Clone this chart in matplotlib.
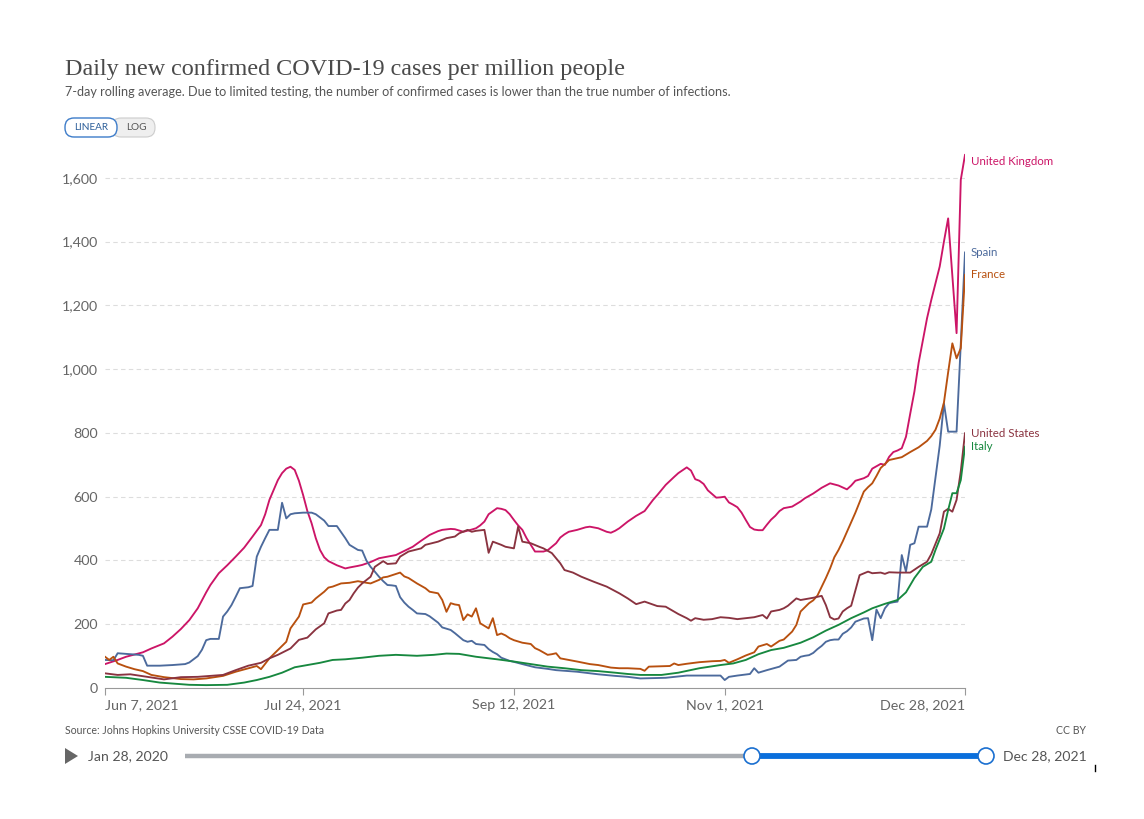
import numpy as np
import matplotlib
matplotlib.use("Agg")
import matplotlib.pyplot as plt
from matplotlib.patches import FancyBboxPatch, Circle, Polygon

plt.rcParams["font.family"] = ["Lato", "DejaVu Sans"]

START = np.datetime64("2021-06-07")

# day offsets from Jun 7, 2021 and values (cases per million)
uk_days = [0, 3, 5, 7, 9, 11, 14, 16, 18, 20, 22, 24, 25, 27, 29, 31, 33, 35, 37, 38, 39, 41, 42, 43, 44,
           45, 46, 47, 48, 49, 50, 51, 52, 53, 55, 57, 58, 60, 61, 63, 65, 67, 69, 71, 73, 75, 77, 79, 80,
           82, 83, 85, 87, 88, 89, 90, 91, 93, 94, 95, 96, 97, 98, 99, 100, 101, 102, 104, 105, 107, 108,
           109, 110, 112, 114, 115, 117, 119, 120, 121, 122, 124, 126, 128, 130, 131, 133, 135, 136, 138,
           139, 140, 141, 142, 143, 145, 146, 147, 148, 149, 150, 151, 152, 153, 154, 155, 156, 157, 158,
           159, 160, 161, 163, 165, 166, 168, 170, 172, 174, 176, 177, 178, 180, 181, 182, 184, 185, 186,
           187, 188, 189, 190, 191, 192, 193, 194, 195, 196, 197, 198, 199, 200, 201, 202, 203, 204]
uk_vals = [75, 88, 98, 105, 112, 124, 140, 161, 185, 213, 250, 300, 323, 360, 385, 412, 440, 475, 511, 545, 590,
           652, 674, 688, 694, 684, 650, 605, 555, 517, 470, 433, 410, 398, 385, 375, 378, 383, 386, 395, 407,
           412, 417, 430, 443, 462, 480, 492, 496, 499, 498, 490, 497, 501, 510, 522, 545, 564, 562, 558, 545,
           527, 510, 496, 470, 449, 428, 428, 432, 454, 472, 482, 490, 496, 504, 506, 501, 490, 487, 493, 501,
           522, 540, 555, 590, 605, 637, 662, 674, 692, 682, 655, 650, 640, 620, 597, 598, 600, 582, 575, 567,
           550, 527, 505, 497, 495, 495, 512, 528, 540, 555, 564, 569, 585, 595, 610, 628, 642, 635, 623, 635,
           650, 658, 665, 688, 703, 700, 725, 740, 745, 752, 788, 860, 930, 1020, 1090, 1160, 1217, 1270,
           1322, 1400, 1473, 1293, 1113, 1594, 1672]

es_days = [0, 2, 3, 6, 8, 9, 10, 13, 16, 19, 20, 22, 23, 24, 25, 27, 28, 29, 30, 31, 32, 34, 35, 36, 37, 38,
           39, 41, 42, 43, 44, 45, 47, 49, 50, 51, 52, 53, 55, 57, 58, 60, 61, 62, 63, 64, 65, 66, 67, 68, 69,
           70, 71, 72, 73, 74, 76, 77, 78, 79, 80, 81, 82, 83, 84, 85, 86, 87, 88, 90, 91, 92, 93, 94, 96, 97,
           99, 102, 105, 107, 110, 112, 115, 117, 121, 124, 127, 130, 133, 136, 138, 142, 146, 147, 148, 150,
           153, 154, 155, 157, 160, 162, 164, 165, 166, 167, 168, 169, 170, 171, 172, 173, 174, 175, 176, 177,
           178, 179, 180, 181, 182, 183, 184, 185, 186, 187, 188, 189, 190, 191, 192, 193, 194, 195, 196, 197,
           198, 199, 200, 201, 202, 203, 204]
es_vals = [88, 87, 109, 106, 104, 101, 70, 70, 72, 75, 80, 100, 120, 150, 154, 154, 224, 240, 260, 286, 313,
           316, 320, 412, 443, 470, 496, 496, 581, 532, 545, 548, 550, 550, 545, 535, 525, 508, 508, 470, 449,
           433, 431, 400, 380, 365, 349, 335, 323, 322, 320, 285, 268, 255, 245, 234, 232, 225, 215, 205, 190,
           186, 182, 172, 161, 150, 145, 148, 138, 135, 122, 113, 106, 95, 85, 82, 75, 65, 60, 56, 53, 51, 46,
           43, 38, 35, 30, 31, 32, 36, 39, 39, 39, 25, 35, 39, 44, 62, 48, 56, 67, 86, 88, 98, 101, 103, 110,
           122, 132, 145, 150, 152, 152, 170, 178, 190, 208, 213, 218, 219, 150, 246, 219, 250, 266, 269, 271,
           417, 365, 449, 454, 506, 506, 506, 560, 660, 760, 893, 804, 804, 804, 1080, 1366]

fr_days = [0, 1, 2, 3, 5, 7, 9, 11, 14, 18, 21, 24, 28, 31, 34, 36, 37, 39, 41, 43, 44, 46, 47, 49, 50, 52,
           53, 54, 56, 58, 60, 62, 63, 65, 66, 67, 70, 71, 72, 74, 76, 77, 79, 80, 81, 82, 83, 84, 85, 86, 87,
           88, 89, 90, 91, 92, 93, 94, 95, 96, 97, 99, 101, 102, 103, 105, 106, 107, 108, 110, 112, 115, 117,
           120, 122, 124, 127, 128, 129, 132, 134, 135, 136, 138, 141, 144, 146, 147, 148, 150, 152, 154, 155,
           157, 158, 160, 161, 163, 164, 165, 167, 168, 169, 171, 172, 173, 174, 175, 176, 178, 180, 181, 182,
           183, 184, 186, 189, 191, 193, 195, 196, 197, 198, 199, 200, 201, 202, 203, 204]
fr_vals = [98, 88, 98, 77, 67, 59, 53, 41, 34, 28, 27, 30, 38, 51, 62, 69, 59, 93, 119, 145, 187, 224, 262, 268,
           281, 302, 315, 318, 328, 330, 335, 330, 328, 339, 347, 349, 362, 350, 345, 328, 313, 302, 297, 276,
           239, 266, 262, 260, 213, 231, 224, 250, 203, 195, 187, 219, 166, 171, 165, 156, 150, 142, 138, 125,
           119, 104, 106, 109, 93, 88, 83, 75, 72, 64, 62, 62, 60, 54, 67, 68, 69, 77, 72, 76, 81, 84, 85, 88,
           79, 90, 102, 112, 130, 138, 130, 148, 152, 177, 198, 240, 266, 275, 290, 345, 375, 410, 433, 460,
           490, 550, 616, 630, 642, 665, 690, 715, 724, 740, 755, 775, 790, 810, 845, 895, 990, 1081, 1034,
           1066, 1296]

us_days = [0, 3, 6, 10, 14, 18, 22, 28, 31, 34, 37, 39, 41, 44, 46, 48, 50, 52, 53, 55, 56, 57, 58, 59, 60,
           61, 63, 64, 66, 67, 69, 70, 72, 75, 76, 79, 81, 83, 84, 86, 87, 88, 90, 91, 92, 94, 95, 97, 98, 99,
           101, 103, 104, 106, 108, 109, 111, 113, 116, 119, 122, 124, 126, 128, 131, 133, 136, 138, 139, 140,
           142, 144, 146, 148, 150, 154, 156, 157, 158, 160, 161, 162, 164, 165, 168, 170, 171, 172, 173, 174,
           175, 176, 177, 179, 181, 182, 184, 185, 186, 188, 191, 193, 195, 196, 198, 199, 200, 201, 202, 203,
           204]
us_vals = [46, 41, 43, 35, 27, 34, 35, 41, 56, 70, 79, 93, 104, 124, 151, 158, 184, 203, 234, 243, 245, 265,
           276, 297, 315, 328, 349, 380, 398, 389, 391, 412, 428, 438, 449, 459, 470, 475, 485, 496, 490, 493,
           496, 424, 459, 449, 443, 438, 506, 459, 454, 443, 438, 423, 391, 370, 362, 349, 333, 318, 297, 281,
           263, 271, 257, 255, 232, 219, 211, 219, 214, 216, 222, 220, 216, 222, 229, 218, 240, 245, 250, 258,
           281, 276, 283, 289, 260, 222, 215, 218, 240, 250, 258, 354, 365, 360, 362, 358, 363, 362, 362, 380,
           396, 420, 485, 553, 562, 553, 590, 680, 799]

it_days = [0, 5, 9, 13, 17, 20, 24, 29, 33, 36, 39, 42, 45, 48, 51, 54, 57, 61, 65, 69, 74, 78, 81, 84, 88,
           93, 97, 101, 105, 109, 113, 117, 121, 124, 127, 132, 136, 141, 146, 149, 152, 155, 158, 161, 165,
           168, 171, 174, 177, 180, 182, 185, 188, 190, 192, 194, 196, 197, 199, 200, 201, 202, 203, 204]
it_vals = [35, 32, 25, 17, 13, 10, 9, 10, 17, 25, 35, 48, 65, 72, 79, 88, 90, 95, 101, 104, 101, 104, 108, 107,
           98, 90, 83, 75, 67, 62, 56, 53, 48, 44, 41, 41, 48, 62, 72, 77, 88, 106, 119, 126, 142, 159, 180,
           198, 219, 237, 250, 264, 276, 300, 345, 380, 396, 433, 500, 558, 611, 611, 652, 757]

series = [
    ("United Kingdom", uk_days, uk_vals, "#CC1567", -5),
    ("Spain", es_days, es_vals, "#4C6A9C", 0),
    ("France", fr_days, fr_vals, "#B8500F", 0),
    ("United States", us_days, us_vals, "#8A3340", 0),
    ("Italy", it_days, it_vals, "#17883F", 0),
]

tick_dates = ["2021-06-07", "2021-07-24", "2021-09-12", "2021-11-01", "2021-12-28"]
tick_labels = ["Jun 7, 2021", "Jul 24, 2021", "Sep 12, 2021", "Nov 1, 2021", "Dec 28, 2021"]
y_ticks = [0, 200, 400, 600, 800, 1000, 1200, 1400, 1600]

W, H = 1144, 819
fig = plt.figure(figsize=(W / 100, H / 100), dpi=100)
fig.patch.set_facecolor("white")

ax = fig.add_axes([105 / W, (H - 688) / H, 860 / W, (688 - 146) / H])

for name, days, vals, color, dy in series:
    dates = START + np.array(days, dtype="timedelta64[D]")
    ax.plot(dates, vals, color=color, lw=1.35, solid_joinstyle="round")
    ax.annotate(name, xy=(dates[-1], vals[-1]), xytext=(4, dy), textcoords="offset points",
                color=color, fontsize=8.3, va="center", ha="left", annotation_clip=False)

ax.set_xlim(np.datetime64(tick_dates[0]), np.datetime64(tick_dates[-1]))
ax.set_ylim(0, 1700)

ax.set_xticks([np.datetime64(d) for d in tick_dates])
ax.set_xticklabels(tick_labels)
for i, lab in enumerate(ax.get_xticklabels()):
    lab.set_ha("left" if i == 0 else ("right" if i == len(tick_labels) - 1 else "center"))
ax.tick_params(axis="x", length=5, width=0.8, color="#999999", labelsize=10.3,
               labelcolor="#666666", pad=3)

ax.set_yticks(y_ticks)
ax.set_yticklabels([f"{v:,}" for v in y_ticks])
ax.tick_params(axis="y", length=0, labelsize=10.3, labelcolor="#666666", pad=5)
for v in y_ticks[1:]:
    ax.axhline(v, color="#dddddd", lw=0.8, ls=(0, (4, 3)), zorder=0)

for s in ["top", "right", "left"]:
    ax.spines[s].set_visible(False)
ax.spines["bottom"].set_color("#999999")
ax.spines["bottom"].set_linewidth(0.8)

# overlay in pixel coordinates for header / footer chrome
ov = fig.add_axes([0, 0, 1, 1])
ov.set_xlim(0, W)
ov.set_ylim(H, 0)
ov.axis("off")

ov.text(65, 70, "Daily new confirmed COVID-19 cases per million people",
        family=["Liberation Serif", "DejaVu Serif"], fontsize=17.4, color="#4a4a4a", va="center")
ov.text(65, 92, "7-day rolling average. Due to limited testing, the number of confirmed cases is "
        "lower than the true number of infections.", fontsize=9.05, color="#555555", va="center")

ov.add_patch(FancyBboxPatch((112, 118), 43, 19, boxstyle="round,pad=0,rounding_size=9",
                            fc="#efefef", ec="#cccccc", lw=0.8))
ov.add_patch(FancyBboxPatch((65, 118), 52, 19, boxstyle="round,pad=0,rounding_size=9",
                            fc="white", ec="#3d7cc9", lw=1.0))
ov.text(91, 127.5, "LINEAR", fontsize=7.2, color="#2d5f9a", ha="center", va="center")
ov.text(136, 127.5, "LOG", fontsize=7.2, color="#555555", ha="center", va="center")

ov.text(65, 730, "Source: Johns Hopkins University CSSE COVID-19 Data", fontsize=7.6,
        color="#555555", va="center")
ov.text(1086, 730, "CC BY", fontsize=7.6, color="#555555", va="center", ha="right")

ov.add_patch(Polygon([[65, 748], [65, 764], [78, 756]], closed=True, fc="#666666", ec="none"))
ov.text(88, 756, "Jan 28, 2020", fontsize=10.1, color="#555555", va="center")
ov.plot([185, 752], [756, 756], color="#a8acb1", lw=3.2, solid_capstyle="butt")
ov.plot([752, 986], [756, 756], color="#0a6fdc", lw=4.2, solid_capstyle="butt")
for cx in (752, 986):
    ov.add_patch(Circle((cx, 756), 8, fc="white", ec="#1a6fd0", lw=1.2, zorder=5))
ov.text(1003, 756, "Dec 28, 2021", fontsize=10.1, color="#555555", va="center")
ov.plot([1094.5, 1094.5], [765, 771], color="black", lw=1.0)

fig.savefig("out.png", dpi=100, facecolor="white")
